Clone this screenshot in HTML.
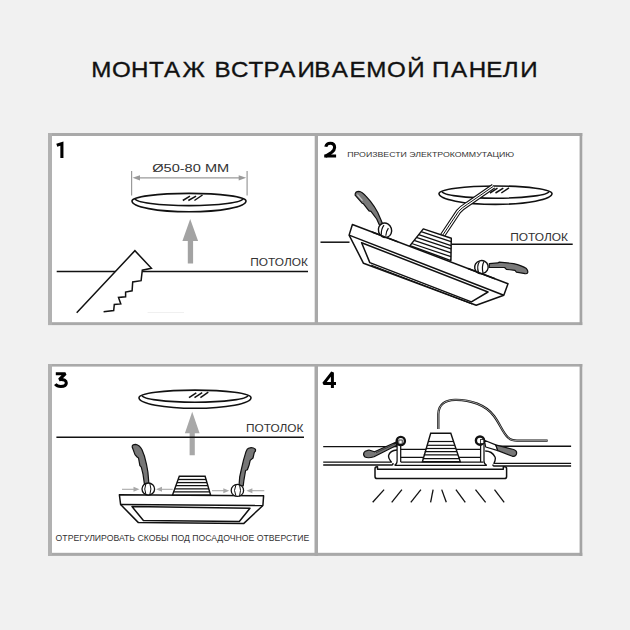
<!DOCTYPE html>
<html><head><meta charset="utf-8">
<style>
html,body{margin:0;padding:0;background:#f1f1f1;}
body{width:630px;height:630px;overflow:hidden;}
svg{display:block;}
text{font-family:"Liberation Sans",sans-serif;}
</style></head>
<body>
<svg width="630" height="630" viewBox="0 0 630 630">
<rect x="0" y="0" width="630" height="630" fill="#f1f1f1"/>
<!-- title -->
<text transform="scale(1.060,1)" y="77.2" font-size="22.8" fill="#111" stroke="#111" stroke-width="0.35" x="85.98 105.71 123.51 140.64 154.80 172.30 202.30 218.04 234.50 248.57 263.48 280.63 296.40 313.06 329.78 345.60 365.10 384.21 407.54 425.46 442.14 458.70 474.24 490.91">МОНТАЖВСТРАИВАЕМОЙПАНЕЛИ</text>

<!-- panel frames -->
<rect x="48" y="133" width="534.3" height="192" fill="#fff"/>
<g fill="#a9a9a9">
<rect x="48" y="133" width="534.3" height="3"/>
<rect x="48" y="322.2" width="534.3" height="2.9"/>
<rect x="48" y="133" width="4" height="192" fill="#b1b1b1"/>
<rect x="579.6" y="133" width="2.7" height="192" fill="#a4a4a4"/>
<rect x="314.7" y="133" width="3.3" height="192"/>
</g>
<rect x="48" y="364" width="534.3" height="192" fill="#fff"/>
<g fill="#a9a9a9">
<rect x="48" y="364" width="534.3" height="2.6"/>
<rect x="48" y="552.8" width="534.3" height="3.1"/>
<rect x="48" y="364" width="4" height="192" fill="#b1b1b1"/>
<rect x="579.6" y="364" width="2.7" height="192" fill="#a4a4a4"/>
<rect x="314.5" y="364" width="3.5" height="192"/>
</g>

<!-- numbers -->
<g fill="none" stroke="#000" stroke-width="3.1" stroke-linejoin="miter">
<path d="M56.8,145.3 L61.9,143.6 L61.9,158"/>
<path d="M325.8,146.8 Q326.5,143.3 330.3,143.3 Q334.6,143.3 334.6,147.5 Q334.6,150 331.8,152.3 L325.8,156 L336.1,156" stroke-linejoin="bevel"/><rect x="324.2" y="154.5" width="3" height="3" fill="#000" stroke="none"/>
<path d="M55.8,373.7 L65.4,373.7 L59.3,379.6 Q66.3,378.9 66.3,383 Q66.2,386.5 60.8,386.5 Q57,386.5 55.3,384.2" stroke-linejoin="bevel"/>
<path d="M332.4,388 L332.4,372.4 L323.6,383.6 L336,383.6" stroke-linejoin="bevel" stroke-width="3"/>
</g>

<!-- ===== PANEL 1 ===== -->
<text x="152.2" y="172.2" font-size="11.5" fill="#333" textLength="77" lengthAdjust="spacingAndGlyphs">Ø50-80 ММ</text>
<g stroke="#9a9a9a" stroke-width="1.2" fill="none">
<line x1="131.6" y1="171" x2="131.6" y2="195.5"/>
<line x1="247.1" y1="171" x2="247.1" y2="195.5"/>
<line x1="136" y1="177.8" x2="243" y2="177.8"/>
</g>
<polygon points="132.5,177.8 140,175.2 140,180.4" fill="#9a9a9a"/>
<polygon points="246.2,177.8 238.7,175.2 238.7,180.4" fill="#9a9a9a"/>
<g stroke="#111" stroke-width="1.6" fill="none">
<path d="M132,201 A57,7.6 0 0 1 246,201 A57,10.8 0 0 1 132,201 Z"/>
<path d="M135,198.6 A54,7 0 0 0 243,198.6"/>
</g>
<g stroke="#111" stroke-width="1.5" fill="none">
<line x1="182.8" y1="200.5" x2="190" y2="196.1"/>
<line x1="188.3" y1="200.5" x2="196.1" y2="196.1"/>
<line x1="194.4" y1="200.5" x2="202.5" y2="195"/>
</g>
<polygon points="190.2,219 182.4,241 187.8,241 187.8,263.6 193.1,263.6 193.1,241 198.1,241" fill="#a3a3a3"/>
<line x1="56.7" y1="271.6" x2="308" y2="271.6" stroke="#111" stroke-width="1.5"/>
<text x="250.3" y="265.8" font-size="10.4" fill="#333" textLength="57.6" lengthAdjust="spacingAndGlyphs">ПОТОЛОК</text>
<path d="M76.7,312.7 L134.9,250.7 L151.4,268.2 L142.3,270.2 L141.1,280.7 L132.7,281.9 L132.1,290.8 L125.6,292 L125.6,296.8 L118.5,297.4 L120.8,303.9 L114.3,304.5 L113.7,310.5 L103.6,311.7 Z" fill="#fff" stroke="none"/>
<path d="M76.7,312.7 L134.9,250.7 L151.4,268.2 L142.3,270.2 L141.1,280.7 L132.7,281.9 L132.1,290.8 L125.6,292 L125.6,296.8 L118.5,297.4 L120.8,303.9 L114.3,304.5 L113.7,310.5 L103.6,311.7" fill="none" stroke="#111" stroke-width="1.5"/>

<line x1="147.6" y1="312.5" x2="184" y2="312.5" stroke="#f0f0f0" stroke-width="1"/>

<!-- ===== PANEL 2 ===== -->
<text x="347.2" y="156.8" font-size="7.8" fill="#333" textLength="167" lengthAdjust="spacingAndGlyphs">ПРОИЗВЕСТИ ЭЛЕКТРОКОММУТАЦИЮ</text>
<line x1="320.5" y1="242.2" x2="349.5" y2="242.2" stroke="#111" stroke-width="1.5"/>
<line x1="452" y1="244.3" x2="572.7" y2="244.3" stroke="#111" stroke-width="1.5"/>
<text x="510.2" y="240.8" font-size="10.4" fill="#333" textLength="57.8" lengthAdjust="spacingAndGlyphs">ПОТОЛОК</text>
<!-- disc -->
<g stroke="#111" stroke-width="1.6" fill="none">
<path d="M439,193.6 A56.5,7.6 0 0 1 552,193.6 A56.5,10.8 0 0 1 439,193.6 Z" fill="#fff"/>
<path d="M442,191.2 A53.5,7 0 0 0 549,191.2"/>
</g>
<g stroke="#111" stroke-width="1.5" fill="none">
<line x1="490" y1="193" x2="497.5" y2="188.2"/>
<line x1="495.5" y1="193" x2="503.3" y2="188.2"/>
<line x1="501.3" y1="193" x2="509" y2="187.8"/>
</g>
<!-- wires -->
<path d="M493.5,186.2 L467.5,204.2 Q461.5,208 458.5,211.5 L442.5,235.5" stroke="#111" stroke-width="5.4" fill="none"/>
<path d="M493.5,186.2 L467.5,204.2 Q461.5,208 458.5,211.5 L442.5,235.5" stroke="#fff" stroke-width="3.2" fill="none"/>
<path d="M493.5,186.2 L467.5,204.2 Q461.5,208 458.5,211.5 L442.5,235.5" stroke="#111" stroke-width="1" fill="none"/>
<!-- slab -->
<g stroke="#111" stroke-width="1.5" fill="#fff" stroke-linejoin="round">
<polygon points="352.4,224.5 508,283.8 503.8,295.2 476.2,305.3 363.5,263.3 349.1,235.1"/>
<line x1="349.1" y1="235.1" x2="503.8" y2="295.2"/>
<polygon points="361.6,242.7 488,292 471.4,301.9 369.8,262.6" fill="none"/>
</g>
<line x1="371" y1="265" x2="472" y2="304" stroke="#111" stroke-width="1"/>
<!-- driver box -->
<polygon points="423.3,228.9 451.3,238.3 450.9,260.6 410,245.6" fill="#fff" stroke="#111" stroke-width="1.5" stroke-linejoin="round"/>
<g stroke="#111" stroke-width="1.3">
<line x1="421.1" y1="231.7" x2="451" y2="241.7"/>
<line x1="418.7" y1="234.7" x2="451" y2="245.6"/>
<line x1="416.3" y1="237.3" x2="451" y2="248.9"/>
<line x1="414.1" y1="240.4" x2="451" y2="252.8"/>
<line x1="411.7" y1="243.5" x2="451" y2="256.7"/>
</g>
<!-- clips p2 -->
<path d="M355.1,195.2 Q355,191.3 358.9,191.3 Q362,191.5 365.9,196.2 L370.3,201.2 L374.1,206.3 L377.9,212.7 L378.6,214.6 L381.1,220.3 L382.8,224.5 L379.4,225 L376.7,219 L371,211.3 L369,210.9 L363.3,203.6 L362.1,203.2 Z" fill="#7a7a7a" stroke="#111" stroke-width="1.2" stroke-linejoin="round"/>
<path d="M357.3,194.6 L362.5,200.6" stroke="#c8c8c8" stroke-width="1.2"/>
<ellipse cx="385" cy="230.2" rx="6.6" ry="7.3" transform="rotate(-18 385 230.2)" fill="#fff" stroke="#111" stroke-width="1.4"/>
<path d="M384,225.1 Q381,229 381.3,234.9 M388.4,228.2 Q386,231.5 385.8,235.8" stroke="#111" stroke-width="1.2" fill="none"/>
<line x1="372" y1="232" x2="398" y2="241.9" stroke="#111" stroke-width="1.5"/>
<path d="M489.3,263.6 L497.9,262.9 L499.3,262.1 L513.6,263.6 Q522,265.5 526.4,268.6 Q528.5,271 527.5,273 Q527,274 525,273.7 L516.4,272.1 L515,270.4 L506.4,269.3 L504.6,267.5 L489.3,267.5 Z" fill="#7a7a7a" stroke="#111" stroke-width="1.2" stroke-linejoin="round"/>
<ellipse cx="481.4" cy="267.1" rx="6.8" ry="6.5" transform="rotate(-15 481.4 267.1)" fill="#fff" stroke="#111" stroke-width="1.4"/>
<path d="M479.5,261.5 Q476.5,266 478.5,272.5 M484,261.5 Q481.5,266 483,273" stroke="#111" stroke-width="1.2" fill="none"/>
<line x1="468" y1="268.5" x2="495" y2="278.8" stroke="#111" stroke-width="1.5"/>

<!-- ===== PANEL 3 ===== -->
<g stroke="#111" stroke-width="1.6" fill="none">
<path d="M139,397.7 A56,7.6 0 0 1 251,397.7 A56,10.6 0 0 1 139,397.7 Z"/>
<path d="M142,395.2 A53,7 0 0 0 248,395.2"/>
</g>
<g stroke="#111" stroke-width="1.5" fill="none">
<line x1="189" y1="397.6" x2="196.3" y2="392.8"/>
<line x1="194.5" y1="397.6" x2="202.2" y2="392.6"/>
<line x1="200.4" y1="397.6" x2="208.3" y2="392.2"/>
</g>
<polygon points="192.2,411.7 184.9,433.2 189.6,433.2 189.6,455.2 194.8,455.2 194.8,433.2 199.6,433.2" fill="#a8a8a8"/>
<line x1="56.4" y1="437.2" x2="304" y2="437.2" stroke="#111" stroke-width="1.5"/>
<text x="246" y="431.8" font-size="10.4" fill="#333" textLength="57.4" lengthAdjust="spacingAndGlyphs">ПОТОЛОК</text>
<!-- slab -->
<g stroke="#111" stroke-width="1.5" fill="#fff" stroke-linejoin="round">
<polygon points="119.4,494.8 263.6,495.7 262.9,505.5 243.6,523.6 138.4,522.6 120.6,504.5"/>
<line x1="120.6" y1="504.5" x2="262.9" y2="505.5"/>
<polygon points="132,506.6 250,508.2 239.3,521.5 143.4,520.5" fill="none"/>
</g>
<!-- driver -->
<polygon points="179.3,476.3 205.1,476.3 210.6,495 172.5,495" fill="#fff" stroke="#111" stroke-width="1.4"/>
<g stroke="#111" stroke-width="1.3">
<line x1="178.1" y1="479.5" x2="206.1" y2="479.5"/>
<line x1="177" y1="482.6" x2="207" y2="482.6"/>
<line x1="175.9" y1="485.7" x2="207.9" y2="485.7"/>
<line x1="174.7" y1="488.8" x2="208.8" y2="488.8"/>
<line x1="173.6" y1="491.9" x2="209.7" y2="491.9"/>
</g>
<!-- clips p3 -->
<path d="M132.2,447 Q132,444.3 135.7,444.3 Q139.5,445 142,449.7 L144.4,456 L146.5,464.3 L147.9,472 L148.9,483.9 L144.4,483.9 L143,474.1 L141.3,467.1 L139.9,465.7 L138.5,458 L137.1,457 L135,454.6 Z" fill="#777" stroke="#111" stroke-width="1.2" stroke-linejoin="round"/>
<ellipse cx="148.3" cy="489" rx="6.3" ry="6" fill="#fff" stroke="#111" stroke-width="1.3"/>
<path d="M146,483.3 Q143.5,489 146,494.8 M149.8,483.2 Q152,489 149.8,494.9" stroke="#111" stroke-width="1" fill="none"/>
<path d="M246,451.7 Q247,448.5 248.8,448.2 Q252.3,446.8 255.4,449.2 Q256,451 254.3,452.4 L253,458 L250.2,460.4 L249.1,465 L247.4,469.8 L245.6,470.5 L243.9,480.3 L243.2,485.9 L239,485.9 L239.7,476.8 L241.1,470.5 L243.5,460.1 Z" fill="#777" stroke="#111" stroke-width="1.2" stroke-linejoin="round"/>
<ellipse cx="237.4" cy="490.4" rx="6.2" ry="6" fill="#fff" stroke="#111" stroke-width="1.3"/>
<path d="M236,484.6 Q233,490.4 236,496.2 M239.5,484.6 Q241.5,490.4 239.5,496.2" stroke="#111" stroke-width="1" fill="none"/>
<!-- small arrows -->
<g stroke="#a8a8a8" stroke-width="1.1" fill="#a8a8a8">
<line x1="122" y1="489.3" x2="135" y2="489.3"/>
<polygon points="139.5,489.3 133.5,486.8 133.5,491.8" stroke="none"/>
<line x1="172.7" y1="489.3" x2="160" y2="489.3"/>
<polygon points="156,489.3 162,486.8 162,491.8" stroke="none"/>
<line x1="212" y1="490.7" x2="225" y2="490.7"/>
<polygon points="229.3,490.7 223.3,488.2 223.3,493.2" stroke="none"/>
<line x1="264.3" y1="490.7" x2="250.5" y2="490.7"/>
<polygon points="246.4,490.7 252.4,488.2 252.4,493.2" stroke="none"/>
</g>
<text x="55.6" y="541" font-size="8.3" fill="#333" textLength="253.8" lengthAdjust="spacingAndGlyphs">ОТРЕГУЛИРОВАТЬ СКОБЫ ПОД ПОСАДОЧНОЕ ОТВЕРСТИЕ</text>

<!-- ===== PANEL 4 ===== -->
<!-- ceiling -->
<g stroke="#111" stroke-width="1.4" fill="none" stroke-linejoin="round">
<line x1="323.2" y1="446.6" x2="397" y2="446.6"/>
<line x1="496" y1="446.2" x2="571.1" y2="446.2"/>
<path d="M323.2,462.1 L391.5,462.1 Q388.2,458.5 388.6,455.4 Q390,450.5 397,450"/>
<path d="M323.2,465 L392,465 Q393.2,464.8 393,463"/>
<path d="M571.1,463.4 L494,463.4 Q496,459 495,457 Q492,451 485.2,451"/>
<path d="M571.1,466 L494,466 Q492.8,466 493,464.5"/>
</g>
<!-- bezel -->
<path d="M377.5,469.2 L503.3,469.2 L503.3,466.7 L504.6,466.7 Q506.6,466.7 506.6,468.7 L506.6,476.4 Q506.6,478.6 504.4,478.6 L377.2,478.6 Q375,478.6 375,476.4 L375,468.8 Q375,466.8 377,466.8 L377.5,466.8 Z" fill="#fff" stroke="#111" stroke-width="1.5" stroke-linejoin="round"/>
<!-- body lines -->
<g stroke="#111" stroke-width="1.25" fill="none">
<line x1="400.7" y1="449.4" x2="480.5" y2="449.4"/>
<line x1="400.7" y1="457.4" x2="480.5" y2="457.4"/>
<line x1="400.7" y1="462.1" x2="483.5" y2="462.1"/>
<line x1="395" y1="465.3" x2="486.7" y2="465.3"/>
</g>
<!-- rods -->
<g stroke="#111" stroke-width="1.25" fill="none">
<path d="M397.1,443 L397.1,461 Q397,464.5 394.5,465.3 M400.7,443 L400.7,462.1"/>
<path d="M480.6,443 L480.6,462.1 M484,443 L484,461 Q484.2,464.5 486.7,465.3"/>
</g>
<!-- driver -->
<polygon points="430.7,433.3 450.8,433.3 460.3,461.8 422.4,461.8" fill="#fff" stroke="#111" stroke-width="1.4"/>
<g stroke="#111" stroke-width="1.2">
<line x1="428.1" y1="441.5" x2="453.5" y2="441.5"/>
<line x1="426.9" y1="445.3" x2="454.8" y2="445.3"/>
<line x1="425.8" y1="448.5" x2="455.8" y2="448.5"/>
<line x1="424.8" y1="451.7" x2="456.9" y2="451.7"/>
<line x1="423.8" y1="454.8" x2="457.9" y2="454.8"/>
<line x1="422.8" y1="458.7" x2="459.2" y2="458.7"/>
</g>
<!-- wire -->
<path d="M438.3,429 L438.3,414 C438.5,404 446,400 455,399.8 C470,399.5 486,405 494,416 C500,424 503,433 508,437.5 C510.5,440 513,440.6 517,440.6 L547.6,440.6" stroke="#111" stroke-width="2.3" fill="none"/>
<path d="M438.3,429.5 L438.3,414 C438.5,404 446,400 455,399.8 C470,399.5 486,405 494,416 C500,424 503,433 508,437.5 C510.5,440 513,440.6 517,440.6 L547,440.6" stroke="#f4f4f4" stroke-width="0.6" fill="none"/>
<!-- clips p4 -->
<path d="M367,450.6 L369,450 L374.5,451.8 L395.7,442.2 L396.8,445.3 L374,456.8 Q368,458.6 365,457 Q362.8,455 364,452.5 Q365,451 367,450.6 Z" fill="#777" stroke="#111" stroke-width="1.2" stroke-linejoin="round"/>
<line x1="376" y1="452.8" x2="395.5" y2="443.8" stroke="#333" stroke-width="0.8"/>
<circle cx="400.8" cy="441" r="4.1" fill="#fff" stroke="#111" stroke-width="2.4"/>
<rect x="398.8" y="440" width="3.4" height="4" fill="#fff" stroke="#111" stroke-width="0.8"/>
<path d="M484.3,440.2 L495.7,444.9 L497.9,450.6 L485.7,447 Z" fill="#fff" stroke="#111" stroke-width="1.2" stroke-linejoin="round"/>
<path d="M495.7,444.9 L513.6,449.5 Q517,450.5 516.6,453.5 Q516,456.8 512.5,456.3 L497.9,450.6 Z" fill="#777" stroke="#111" stroke-width="1.2" stroke-linejoin="round"/>
<circle cx="480" cy="440.6" r="4.1" fill="#fff" stroke="#111" stroke-width="2.4"/>
<rect x="480.4" y="439.6" width="3.4" height="4" fill="#fff" stroke="#111" stroke-width="0.8"/>
<!-- rays -->
<g stroke="#111" stroke-width="1.3">
<line x1="384.1" y1="489.6" x2="372.7" y2="502.3"/>
<line x1="401.9" y1="489.6" x2="391.7" y2="502.3"/>
<line x1="420.9" y1="489.6" x2="410.8" y2="502.3"/>
<line x1="433.1" y1="489.6" x2="430.6" y2="502.3"/>
<line x1="441.7" y1="489.6" x2="446.3" y2="502.3"/>
<line x1="455.9" y1="489.6" x2="465.3" y2="502.3"/>
<line x1="475.5" y1="489.6" x2="485.6" y2="502.3"/>
<line x1="494.5" y1="489.6" x2="504.2" y2="502.3"/>
</g>
</svg>
</body></html>
